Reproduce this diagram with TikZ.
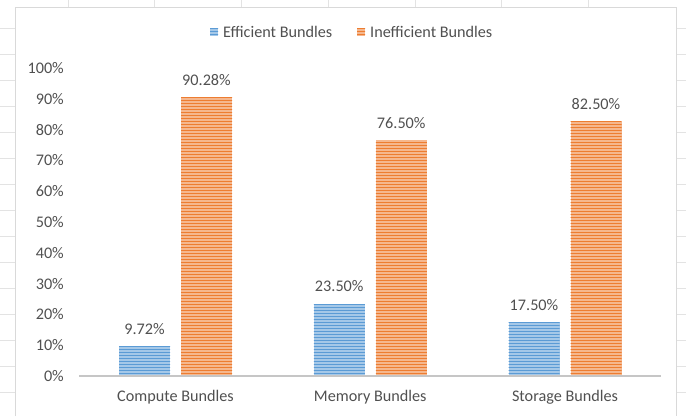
\documentclass[tikz,border=0pt]{standalone}
\usepackage{fontspec}
\setmainfont{Carlito}
\usepackage{tikz}
\usetikzlibrary{patterns}
\definecolor{effblue}{HTML}{5B9BD5}
\definecolor{inforange}{HTML}{ED7D31}
\definecolor{txtgray}{HTML}{505050}
\definecolor{gridgray}{HTML}{E3E3E3}

\begin{document}
\begin{tikzpicture}[x=1pt,y=1pt,
    lbl/.style={text=txtgray,inner sep=0pt},
    effbar/.style={fill=effblue!55,postaction={pattern=horizontal lines,pattern color=effblue}},
    infbar/.style={fill=inforange!55,postaction={pattern=horizontal lines,pattern color=inforange}}]

  \fontsize{16.2}{19}\selectfont

  \newcommand\X{194.75};
  \newcommand\Y{3.08};

  \useasboundingbox (0,0) rectangle (686,416);

  %% sheet grid and chart frame
  \foreach \gx in {68,154,241,328,415,501,588} \draw[gridgray] (\gx,409) -- (\gx,416);
  \foreach \gy in {24,50,76,102,128,154,180,206,232,258,284,310,336,362,388} {
    \draw[gridgray] (0,\gy) -- (15,\gy);
    \draw[gridgray] (676,\gy) -- (686,\gy);
  }
  \draw[gray!30] (15,0) -- (15,409) -- (676,409) -- (676,0);

  %% y axis labels
  \foreach \p in {0,10,...,100}
    \node[lbl,anchor=east] (p\p) at (64, 40+\p*\Y) {\p\%};

  %% bars
  \draw[effbar,draw=none] (119+0*\X, 40) rectangle (170+0*\X, 40+9.72*\Y);
  \draw[infbar,draw=none] (181+0*\X, 40) rectangle (232+0*\X, 40+90.28*\Y);
  \draw[effbar,draw=none] (119+1*\X, 40) rectangle (170+1*\X, 40+23.5*\Y);
  \draw[infbar,draw=none] (181+1*\X, 40) rectangle (232+1*\X, 40+76.5*\Y);
  \draw[effbar,draw=none] (119+2*\X, 40) rectangle (170+2*\X, 40+17.5*\Y);
  \draw[infbar,draw=none] (181+2*\X, 40) rectangle (232+2*\X, 40+82.5*\Y);

  %% x axis
  \draw[gray!45,line width=2pt] (79,40) -- (661,40);

  %% value labels
  \node[lbl,anchor=base] (v1e) at (144.5+0*\X, 52+9.72*\Y) {9.72\%};
  \node[lbl,anchor=base] (v1i) at (206.5+0*\X, 52+90.28*\Y) {90.28\%};
  \node[lbl,anchor=base] (v2e) at (144.5+1*\X, 52+23.5*\Y) {23.50\%};
  \node[lbl,anchor=base] (v2i) at (206.5+1*\X, 52+76.5*\Y) {76.50\%};
  \node[lbl,anchor=base] (v3e) at (144.5+2*\X, 52+17.5*\Y) {17.50\%};
  \node[lbl,anchor=base] (v3i) at (206.5+2*\X, 52+82.5*\Y) {82.50\%};

  %% categories
  \node[lbl] (compute) at (175.5+0*\X, 19) {Compute Bundles};
  \node[lbl] (memory) at (175.5+1*\X, 19) {Memory Bundles};
  \node[lbl] (storage) at (175.5+2*\X, 19) {Storage Bundles};

  %% legend
  \draw[effbar,draw=none] (210,380) rectangle (218,388);
  \node[lbl,anchor=west] (legE) at (223,384) {Efficient Bundles};
  \draw[infbar,draw=none] (357,380) rectangle (365,388);
  \node[lbl,anchor=west] (legI) at (370,384) {Inefficient Bundles};

\end{tikzpicture}
\end{document}
